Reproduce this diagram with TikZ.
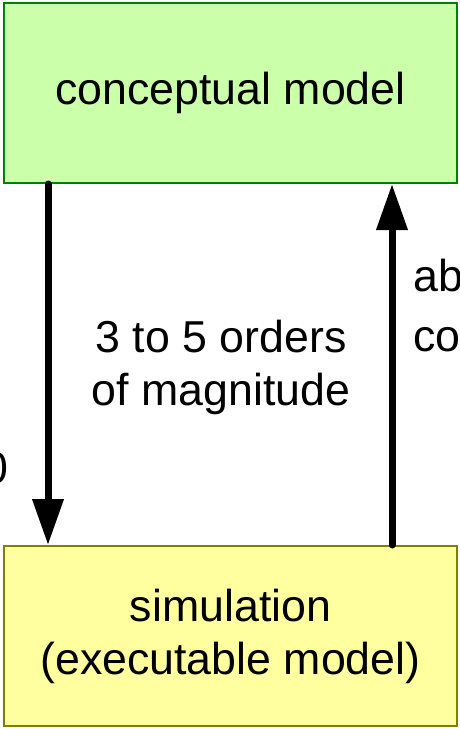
\documentclass[tikz,border=0pt]{standalone}
\usepackage{fontspec}
\setmainfont{Liberation Sans}
\usetikzlibrary{arrows.meta}
\definecolor{boxgreen}{RGB}{204,255,170}
\definecolor{edgegreen}{RGB}{0,128,0}
\definecolor{boxyellow}{RGB}{255,255,160}
\definecolor{edgeolive}{RGB}{128,128,0}
\begin{document}
\begin{tikzpicture}[x=1pt,y=-1pt,
  box/.style={draw, line width=2pt, minimum width=453pt, minimum height=180pt,
    inner sep=0pt, align=center, font=\fontsize{44.7}{53}\selectfont},
  flow/.style={line width=7pt, line cap=round, -{Triangle[length=46pt,width=30pt]}},
  lbl/.style={inner sep=0pt, align=center, font=\fontsize{44.7}{53}\selectfont},
  side/.style={inner sep=0pt, font=\fontsize{44.7}{53}\selectfont}]
\useasboundingbox (0,0) rectangle (459,729);
\node[box, fill=boxgreen, draw=edgegreen] (top) at (230.5,93) {conceptual model};
\node[box, fill=boxyellow, draw=edgeolive] (bot) at (230.5,636) {simulation\\(executable model)};
\coordinate (ltop) at ([xshift=45pt]top.south west);
\coordinate (lbot) at ([xshift=45pt]bot.north west);
\coordinate (rtop) at ([xshift=389pt]top.south west);
\coordinate (rbot) at ([xshift=389pt]bot.north west);
\draw[flow] (ltop) -- (lbot);
\draw[flow] (rbot) -- (rtop);
\node[lbl] (mid) at (221,367) {3 to 5 orders\\of magnitude};
\node[side, anchor=base west] (ab) at (413,291) {ab};
\node[side, anchor=base west] (co) at (413,351) {co};
\node[lbl, anchor=base east] (zero) at (9,483) {0};
\end{tikzpicture}
\end{document}
